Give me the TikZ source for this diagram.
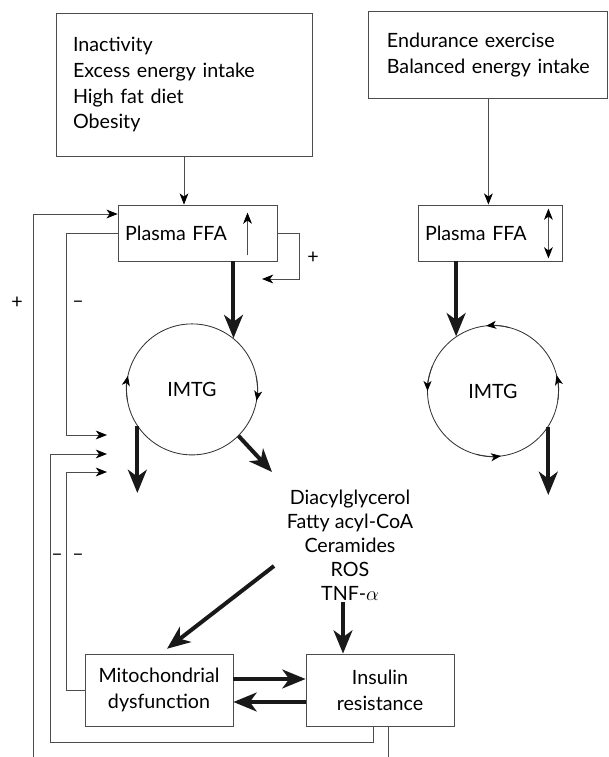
\documentclass[tikz,border=0pt]{standalone}
\usepackage{fontspec}
\setmainfont{Lato}
\usetikzlibrary{arrows.meta}
\usetikzlibrary{positioning}
\usetikzlibrary{calc}

\tikzset{
  box/.style={draw=black!70, line width=0.6pt, align=center, inner sep=0pt},
  flow/.style={draw=black!70, line width=0.6pt, -{Stealth[length=0.28cm, width=0.22cm, inset=0.08cm, color=black]}},
  twoway/.style={draw=black!70, line width=0.6pt, {Stealth[length=0.28cm, width=0.22cm, inset=0.08cm, color=black]}-{Stealth[length=0.28cm, width=0.22cm, inset=0.08cm, color=black]}},
  wire/.style={draw=black!70, line width=0.6pt},
  bigarrow/.style={draw=black!90, line width=0.1cm, -{Stealth[length=0.58cm, width=0.47cm, inset=0.17cm]}},
  spin/.style={draw=black!80, line width=0.6pt, -{Stealth[length=0.25cm, width=0.2cm, inset=0.07cm, color=black]}},
  pool/.style={circle, draw=black!80, line width=0.6pt, minimum size=3.275cm, inner sep=0pt}
}

\begin{document}
\begin{tikzpicture}[font=\fontsize{14}{18.4}\selectfont]
    \useasboundingbox (0,0) rectangle (15.225,18.925);

    % boxes
    \node[box, text width=5.55cm, minimum height=3.575cm, inner xsep=0.425cm, align=left] (habits) at (4.6,16.81) {Inactivity\\Excess energy intake\\High fat diet\\Obesity};
    \node[box, text width=5.075cm, minimum height=2.175cm, inner xsep=0.45cm, align=left] (training) at (12.21,17.54) {Endurance exercise\\Balanced energy intake};
    \node[box, text width=3.625cm, minimum height=1.4cm, inner xsep=0.175cm, align=left] (ffaA) at (4.94,13.1) {Plasma FFA};
    \node[box, text width=3.25cm, minimum height=1.4cm, inner xsep=0.175cm, align=left] (ffaB) at (12.25,13.1) {Plasma FFA};
    \node[pool] (imtgA) at (4.8,9.19) {IMTG};
    \node[pool] (imtgB) at (12.325,9.15) {IMTG};
    \node[align=center, font=\fontsize{14}{17}\selectfont] (lipids) at (8.75,5.3) {Diacylglycerol\\Fatty acyl-CoA\\Ceramides\\ROS\\TNF-$\alpha$};
    \node[box, minimum width=3.7cm, minimum height=1.8cm] (mito) at (3.975,1.675) {Mitochondrial\\dysfunction};
    \node[box, minimum width=3.7cm, minimum height=1.8cm] (insulin) at (9.5,1.675) {Insulin\\resistance};

    \coordinate (loopend) at (6.55,11.95);
    \coordinate (inA) at (2.675,8.05);
    \coordinate (inB) at (2.675,7.575);
    \coordinate (inC) at (2.675,7.125);
    \coordinate (outA) at (3.425,6.6);
    \coordinate (outB) at (13.7,6.55);
    \coordinate (toLip) at (6.8,7.125);
    \coordinate (fromLip) at (6.85,4.775);
    \coordinate (lipDown) at (8.575,3.875);
    \coordinate (footA) at (0.825,0);
    \coordinate (footB) at (9.7,0);

    % inputs
    \draw[flow] (habits.south) -- (habits.south |- ffaA.north);
    \draw[flow] (training.south) -- (training.south |- ffaB.north);
    \draw[flow] ([xshift=-0.75cm,yshift=0.15cm]ffaA.south east) -- ([xshift=-0.75cm,yshift=-0.2cm]ffaA.north east);
    \draw[twoway] ([xshift=-0.35cm,yshift=0.075cm]ffaB.south east) -- ([xshift=-0.35cm,yshift=-0.1cm]ffaB.north east);
    \draw[flow] (ffaA.east) -- ++(0.55,0) |- (loopend);
    \node (plusA) at (7.825,12.475) {+};

    % IMTG turnover
    \draw[spin] ([shift={(190:1.6375)}]imtgA.center) arc (190:168:1.6375);
    \draw[spin] ([shift={(12:1.6375)}]imtgA.center) arc (12:-10:1.6375);
    \draw[spin] ([shift={(75:1.6375)}]imtgB.center) arc (75:96:1.6375);
    \draw[spin] ([shift={(158:1.6375)}]imtgB.center) arc (158:180:1.6375);
    \draw[spin] ([shift={(255:1.6375)}]imtgB.center) arc (255:277:1.6375);
    \draw[spin] ([shift={(352:1.6375)}]imtgB.center) arc (352:374:1.6375);

    \draw[bigarrow] (ffaA.south -| imtgA.51) -- (imtgA.51);
    \draw[bigarrow] (ffaB.south -| imtgB.124) -- (imtgB.124);
    \draw[bigarrow] (imtgA.214) -- (imtgA.214 |- outA);
    \draw[bigarrow] (imtgB.327) -- (imtgB.327 |- outB);
    \draw[bigarrow] (imtgA.315) -- (toLip);
    \draw[bigarrow] (fromLip) -- ([xshift=0.2cm,yshift=0.12cm]mito.north);
    \draw[bigarrow] (lipDown) -- (lipDown |- insulin.north);
    \draw[bigarrow] ([yshift=0.275cm]mito.east) -- ([yshift=0.275cm]insulin.west);
    \draw[bigarrow] ([yshift=-0.3cm]insulin.west) -- ([yshift=-0.3cm]mito.east);

    % feedback
    \draw[flow] (footA) |- ([yshift=0.475cm]ffaA.west);
    \draw[flow] (ffaA.west) -- ++(-1.275,0) |- (inA);
    \draw[flow] ([xshift=-0.175cm]insulin.south) |- (1.25,0.375) |- (inB);
    \draw[flow] (mito.west) -- ++(-0.45,0) |- (inC);
    \draw[wire] ([xshift=0.2cm]insulin.south) -- (footB);
    \node (plusB) at (0.425,11.35) {+};
    \node (minusA) at (1.95,11.325) {--};
    \node (minusB) at (1.425,5.0) {--};
    \node (minusC) at (1.95,5.0) {--};
\end{tikzpicture}
\end{document}
